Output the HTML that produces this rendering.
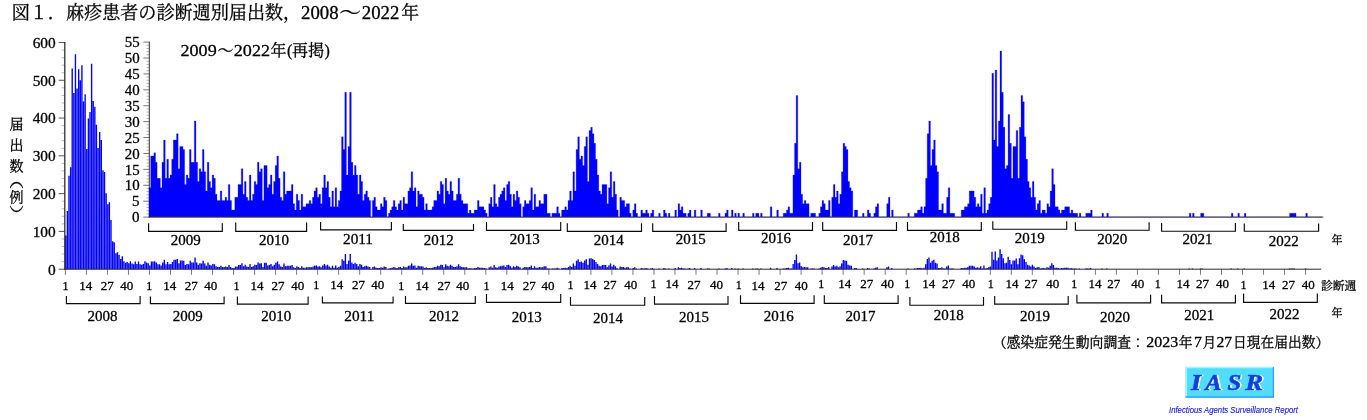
<!DOCTYPE html>
<html lang="ja"><head><meta charset="utf-8"><title>図1 麻疹患者の診断週別届出数</title>
<style>html,body{margin:0;padding:0;background:#fff}svg{display:block}text{font-family:"Liberation Serif","Noto Serif CJK JP","Noto Serif CJK SC",serif;fill:#000;stroke:#000;stroke-width:.28px}.ax{stroke:#333;stroke-width:1;fill:none}.tk{stroke:#555;stroke-width:0.8;fill:none}.br{stroke:#0a0a0a;stroke-width:1.15;fill:none}</style></head><body>
<svg width="1367" height="420" viewBox="0 0 1367 420">
<rect width="1367" height="420" fill="#fff"/>
<path d="M65.07 269.20h1.36v-33.65h-1.36zM66.68 269.20h1.36v-58.21h-1.36zM68.30 269.20h1.36v-93.35h-1.36zM69.92 269.20h1.36v-102.04h-1.36zM71.53 269.20h1.36v-200.65h-1.36zM73.15 269.20h1.36v-176.09h-1.36zM74.77 269.20h1.36v-215.01h-1.36zM76.38 269.20h1.36v-180.63h-1.36zM78.00 269.20h1.36v-199.90h-1.36zM79.62 269.20h1.36v-188.94h-1.36zM81.23 269.20h1.36v-204.05h-1.36zM82.85 269.20h1.36v-167.78h-1.36zM84.47 269.20h1.36v-174.96h-1.36zM86.08 269.20h1.36v-120.17h-1.36zM87.70 269.20h1.36v-150.78h-1.36zM89.32 269.20h1.36v-157.20h-1.36zM90.93 269.20h1.36v-205.56h-1.36zM92.55 269.20h1.36v-168.16h-1.36zM94.17 269.20h1.36v-162.49h-1.36zM95.78 269.20h1.36v-144.35h-1.36zM97.40 269.20h1.36v-121.31h-1.36zM99.01 269.20h1.36v-137.18h-1.36zM100.63 269.20h1.36v-129.24h-1.36zM102.25 269.20h1.36v-99.01h-1.36zM103.86 269.20h1.36v-97.13h-1.36zM105.48 269.20h1.36v-75.97h-1.36zM107.10 269.20h1.36v-65.01h-1.36zM108.71 269.20h1.36v-66.90h-1.36zM110.33 269.20h1.36v-49.14h-1.36zM111.95 269.20h1.36v-27.98h-1.36zM113.56 269.20h1.36v-26.85h-1.36zM115.18 269.20h1.36v-15.89h-1.36zM116.80 269.20h1.36v-17.02h-1.36zM118.41 269.20h1.36v-14.38h-1.36zM120.03 269.20h1.36v-10.22h-1.36zM121.65 269.20h1.36v-12.87h-1.36zM123.26 269.20h1.36v-7.96h-1.36zM124.88 269.20h1.36v-6.45h-1.36zM126.50 269.20h1.36v-7.20h-1.36zM128.11 269.20h1.36v-6.07h-1.36zM129.73 269.20h1.36v-7.96h-1.36zM131.34 269.20h1.36v-5.69h-1.36zM132.96 269.20h1.36v-4.93h-1.36zM134.58 269.20h1.36v-7.58h-1.36zM136.19 269.20h1.36v-5.31h-1.36zM137.81 269.20h1.36v-7.58h-1.36zM139.43 269.20h1.36v-4.93h-1.36zM141.04 269.20h1.36v-4.56h-1.36zM142.66 269.20h1.36v-5.31h-1.36zM144.28 269.20h1.36v-7.96h-1.36zM145.89 269.20h1.36v-6.82h-1.36zM147.51 269.20h1.36v-6.07h-1.36zM149.13 269.20h1.36v-3.80h-1.36zM150.74 269.20h1.36v-7.58h-1.36zM152.36 269.20h1.36v-7.58h-1.36zM153.98 269.20h1.36v-7.96h-1.36zM155.59 269.20h1.36v-6.82h-1.36zM157.21 269.20h1.36v-4.93h-1.36zM158.83 269.20h1.36v-4.93h-1.36zM160.44 269.20h1.36v-3.80h-1.36zM162.06 269.20h1.36v-6.82h-1.36zM163.67 269.20h1.36v-9.47h-1.36zM165.29 269.20h1.36v-4.93h-1.36zM166.91 269.20h1.36v-7.20h-1.36zM168.52 269.20h1.36v-4.93h-1.36zM170.14 269.20h1.36v-5.31h-1.36zM171.76 269.20h1.36v-7.20h-1.36zM173.37 269.20h1.36v-9.47h-1.36zM174.99 269.20h1.36v-9.47h-1.36zM176.61 269.20h1.36v-10.22h-1.36zM178.22 269.20h1.36v-6.07h-1.36zM179.84 269.20h1.36v-8.71h-1.36zM181.46 269.20h1.36v-8.71h-1.36zM183.07 269.20h1.36v-8.33h-1.36zM184.69 269.20h1.36v-4.18h-1.36zM186.31 269.20h1.36v-5.31h-1.36zM187.92 269.20h1.36v-4.93h-1.36zM189.54 269.20h1.36v-8.33h-1.36zM191.16 269.20h1.36v-6.82h-1.36zM192.77 269.20h1.36v-6.82h-1.36zM194.39 269.20h1.36v-11.73h-1.36zM196.00 269.20h1.36v-6.82h-1.36zM197.62 269.20h1.36v-4.56h-1.36zM199.24 269.20h1.36v-6.07h-1.36zM200.85 269.20h1.36v-5.69h-1.36zM202.47 269.20h1.36v-8.33h-1.36zM204.09 269.20h1.36v-5.69h-1.36zM205.70 269.20h1.36v-3.42h-1.36zM207.32 269.20h1.36v-6.82h-1.36zM208.94 269.20h1.36v-4.56h-1.36zM210.55 269.20h1.36v-3.80h-1.36zM212.17 269.20h1.36v-5.31h-1.36zM213.79 269.20h1.36v-4.93h-1.36zM215.40 269.20h1.36v-3.04h-1.36zM217.02 269.20h1.36v-2.29h-1.36zM218.64 269.20h1.36v-2.29h-1.36zM220.25 269.20h1.36v-3.42h-1.36zM221.87 269.20h1.36v-2.29h-1.36zM223.49 269.20h1.36v-2.29h-1.36zM225.10 269.20h1.36v-2.67h-1.36zM226.72 269.20h1.36v-2.29h-1.36zM228.33 269.20h1.36v-4.18h-1.36zM229.95 269.20h1.36v-2.29h-1.36zM231.57 269.20h1.36v-1.16h-1.36zM233.18 269.20h1.36v-1.16h-1.36zM234.80 269.20h1.36v-2.67h-1.36zM236.42 269.20h1.36v-2.67h-1.36zM238.03 269.20h1.36v-4.18h-1.36zM239.65 269.20h1.36v-4.18h-1.36zM241.27 269.20h1.36v-6.07h-1.36zM242.88 269.20h1.36v-3.04h-1.36zM244.50 269.20h1.36v-4.56h-1.36zM246.12 269.20h1.36v-2.67h-1.36zM247.73 269.20h1.36v-2.29h-1.36zM249.35 269.20h1.36v-5.31h-1.36zM250.97 269.20h1.36v-2.29h-1.36zM252.58 269.20h1.36v-3.04h-1.36zM254.20 269.20h1.36v-4.56h-1.36zM255.82 269.20h1.36v-4.18h-1.36zM257.43 269.20h1.36v-6.82h-1.36zM259.05 269.20h1.36v-5.69h-1.36zM260.66 269.20h1.36v-6.07h-1.36zM262.28 269.20h1.36v-2.29h-1.36zM263.90 269.20h1.36v-6.45h-1.36zM265.51 269.20h1.36v-6.45h-1.36zM267.13 269.20h1.36v-3.80h-1.36zM268.75 269.20h1.36v-4.18h-1.36zM270.36 269.20h1.36v-5.31h-1.36zM271.98 269.20h1.36v-3.04h-1.36zM273.60 269.20h1.36v-4.56h-1.36zM275.21 269.20h1.36v-6.45h-1.36zM276.83 269.20h1.36v-7.58h-1.36zM278.45 269.20h1.36v-4.93h-1.36zM280.06 269.20h1.36v-2.67h-1.36zM281.68 269.20h1.36v-2.29h-1.36zM283.30 269.20h1.36v-5.69h-1.36zM284.91 269.20h1.36v-3.04h-1.36zM286.53 269.20h1.36v-3.42h-1.36zM288.15 269.20h1.36v-3.42h-1.36zM289.76 269.20h1.36v-3.42h-1.36zM291.38 269.20h1.36v-4.18h-1.36zM292.99 269.20h1.36v-1.91h-1.36zM294.61 269.20h1.36v-1.16h-1.36zM296.23 269.20h1.36v-3.04h-1.36zM297.84 269.20h1.36v-2.29h-1.36zM299.46 269.20h1.36v-1.16h-1.36zM301.08 269.20h1.36v-3.04h-1.36zM302.69 269.20h1.36v-1.53h-1.36zM304.31 269.20h1.36v-1.53h-1.36zM305.93 269.20h1.36v-1.91h-1.36zM307.54 269.20h1.36v-1.91h-1.36zM309.16 269.20h1.36v-2.29h-1.36zM310.78 269.20h1.36v-1.91h-1.36zM312.39 269.20h1.36v-2.67h-1.36zM314.01 269.20h1.36v-3.42h-1.36zM315.63 269.20h1.36v-3.80h-1.36zM317.24 269.20h1.36v-2.67h-1.36zM318.86 269.20h1.36v-3.04h-1.36zM320.48 269.20h1.36v-1.91h-1.36zM322.09 269.20h1.36v-3.80h-1.36zM323.71 269.20h1.36v-5.31h-1.36zM325.32 269.20h1.36v-3.80h-1.36zM326.94 269.20h1.36v-4.56h-1.36zM328.56 269.20h1.36v-2.67h-1.36zM330.17 269.20h1.36v-1.53h-1.36zM331.79 269.20h1.36v-3.42h-1.36zM333.41 269.20h1.36v-1.53h-1.36zM335.02 269.20h1.36v-3.80h-1.36zM336.64 269.20h1.36v-1.53h-1.36zM338.26 269.20h1.36v-2.29h-1.36zM339.87 269.20h1.36v-3.42h-1.36zM341.49 269.20h1.36v-9.85h-1.36zM343.11 269.20h1.36v-8.33h-1.36zM344.72 269.20h1.36v-15.14h-1.36zM346.34 269.20h1.36v-5.31h-1.36zM347.96 269.20h1.36v-8.71h-1.36zM349.57 269.20h1.36v-15.14h-1.36zM351.19 269.20h1.36v-6.82h-1.36zM352.81 269.20h1.36v-5.31h-1.36zM354.42 269.20h1.36v-6.45h-1.36zM356.04 269.20h1.36v-5.31h-1.36zM357.65 269.20h1.36v-3.04h-1.36zM359.27 269.20h1.36v-5.31h-1.36zM360.89 269.20h1.36v-4.56h-1.36zM362.50 269.20h1.36v-2.29h-1.36zM364.12 269.20h1.36v-3.04h-1.36zM365.74 269.20h1.36v-3.42h-1.36zM367.35 269.20h1.36v-2.67h-1.36zM368.97 269.20h1.36v-2.29h-1.36zM372.20 269.20h1.36v-2.29h-1.36zM373.82 269.20h1.36v-2.67h-1.36zM375.44 269.20h1.36v-1.53h-1.36zM377.05 269.20h1.36v-1.16h-1.36zM378.67 269.20h1.36v-1.16h-1.36zM380.29 269.20h1.36v-1.91h-1.36zM381.90 269.20h1.36v-1.53h-1.36zM383.52 269.20h1.36v-2.67h-1.36zM385.14 269.20h1.36v-2.29h-1.36zM388.37 269.20h1.36v-0.78h-1.36zM389.98 269.20h1.36v-1.16h-1.36zM391.60 269.20h1.36v-1.53h-1.36zM393.22 269.20h1.36v-2.29h-1.36zM394.83 269.20h1.36v-1.53h-1.36zM396.45 269.20h1.36v-1.16h-1.36zM398.07 269.20h1.36v-1.91h-1.36zM399.68 269.20h1.36v-2.29h-1.36zM401.30 269.20h1.36v-1.16h-1.36zM402.92 269.20h1.36v-2.67h-1.36zM404.53 269.20h1.36v-1.91h-1.36zM406.15 269.20h1.36v-1.91h-1.36zM407.77 269.20h1.36v-3.42h-1.36zM409.38 269.20h1.36v-3.80h-1.36zM411.00 269.20h1.36v-5.69h-1.36zM412.62 269.20h1.36v-3.42h-1.36zM414.23 269.20h1.36v-3.80h-1.36zM415.85 269.20h1.36v-1.53h-1.36zM417.47 269.20h1.36v-3.42h-1.36zM419.08 269.20h1.36v-3.04h-1.36zM420.70 269.20h1.36v-3.04h-1.36zM422.31 269.20h1.36v-2.67h-1.36zM423.93 269.20h1.36v-1.16h-1.36zM425.55 269.20h1.36v-1.91h-1.36zM427.16 269.20h1.36v-1.16h-1.36zM428.78 269.20h1.36v-1.16h-1.36zM430.40 269.20h1.36v-1.16h-1.36zM432.01 269.20h1.36v-1.53h-1.36zM433.63 269.20h1.36v-2.29h-1.36zM435.25 269.20h1.36v-2.29h-1.36zM436.86 269.20h1.36v-3.42h-1.36zM438.48 269.20h1.36v-3.04h-1.36zM440.10 269.20h1.36v-4.56h-1.36zM441.71 269.20h1.36v-4.18h-1.36zM443.33 269.20h1.36v-1.91h-1.36zM444.95 269.20h1.36v-4.93h-1.36zM446.56 269.20h1.36v-3.42h-1.36zM448.18 269.20h1.36v-3.04h-1.36zM449.80 269.20h1.36v-4.56h-1.36zM451.41 269.20h1.36v-3.42h-1.36zM453.03 269.20h1.36v-2.29h-1.36zM454.64 269.20h1.36v-2.29h-1.36zM456.26 269.20h1.36v-3.04h-1.36zM457.88 269.20h1.36v-4.93h-1.36zM459.49 269.20h1.36v-3.04h-1.36zM461.11 269.20h1.36v-2.29h-1.36zM462.73 269.20h1.36v-1.91h-1.36zM464.34 269.20h1.36v-1.91h-1.36zM465.96 269.20h1.36v-1.91h-1.36zM467.58 269.20h1.36v-0.78h-1.36zM469.19 269.20h1.36v-1.16h-1.36zM470.81 269.20h1.36v-0.78h-1.36zM472.43 269.20h1.36v-0.78h-1.36zM474.04 269.20h1.36v-1.16h-1.36zM475.66 269.20h1.36v-1.16h-1.36zM477.28 269.20h1.36v-2.29h-1.36zM478.89 269.20h1.36v-1.53h-1.36zM480.51 269.20h1.36v-1.53h-1.36zM482.13 269.20h1.36v-1.53h-1.36zM483.74 269.20h1.36v-1.16h-1.36zM485.36 269.20h1.36v-0.78h-1.36zM488.59 269.20h1.36v-1.91h-1.36zM490.21 269.20h1.36v-2.67h-1.36zM491.82 269.20h1.36v-1.53h-1.36zM493.44 269.20h1.36v-4.18h-1.36zM495.06 269.20h1.36v-1.91h-1.36zM496.67 269.20h1.36v-1.53h-1.36zM498.29 269.20h1.36v-2.67h-1.36zM499.91 269.20h1.36v-3.04h-1.36zM501.52 269.20h1.36v-3.42h-1.36zM503.14 269.20h1.36v-3.80h-1.36zM504.76 269.20h1.36v-2.29h-1.36zM506.37 269.20h1.36v-4.18h-1.36zM507.99 269.20h1.36v-4.56h-1.36zM509.61 269.20h1.36v-3.04h-1.36zM511.22 269.20h1.36v-1.53h-1.36zM512.84 269.20h1.36v-3.04h-1.36zM514.46 269.20h1.36v-2.29h-1.36zM516.07 269.20h1.36v-3.42h-1.36zM517.69 269.20h1.36v-2.67h-1.36zM519.30 269.20h1.36v-1.91h-1.36zM522.54 269.20h1.36v-1.53h-1.36zM524.15 269.20h1.36v-2.29h-1.36zM525.77 269.20h1.36v-1.91h-1.36zM527.39 269.20h1.36v-1.91h-1.36zM529.00 269.20h1.36v-2.29h-1.36zM530.62 269.20h1.36v-3.80h-1.36zM532.24 269.20h1.36v-1.16h-1.36zM533.85 269.20h1.36v-3.04h-1.36zM535.47 269.20h1.36v-1.53h-1.36zM537.09 269.20h1.36v-1.53h-1.36zM538.70 269.20h1.36v-2.29h-1.36zM540.32 269.20h1.36v-1.91h-1.36zM541.94 269.20h1.36v-1.91h-1.36zM543.55 269.20h1.36v-3.04h-1.36zM545.17 269.20h1.36v-3.04h-1.36zM546.79 269.20h1.36v-0.78h-1.36zM548.40 269.20h1.36v-0.78h-1.36zM551.63 269.20h1.36v-0.78h-1.36zM553.25 269.20h1.36v-0.78h-1.36zM554.87 269.20h1.36v-0.78h-1.36zM556.48 269.20h1.36v-1.53h-1.36zM558.10 269.20h1.36v-0.78h-1.36zM561.33 269.20h1.36v-1.16h-1.36zM562.95 269.20h1.36v-1.16h-1.36zM564.57 269.20h1.36v-1.53h-1.36zM566.18 269.20h1.36v-1.16h-1.36zM567.80 269.20h1.36v-2.29h-1.36zM569.42 269.20h1.36v-3.42h-1.36zM571.03 269.20h1.36v-2.29h-1.36zM572.65 269.20h1.36v-5.69h-1.36zM574.27 269.20h1.36v-3.42h-1.36zM575.88 269.20h1.36v-8.33h-1.36zM577.50 269.20h1.36v-9.85h-1.36zM579.12 269.20h1.36v-7.20h-1.36zM580.73 269.20h1.36v-7.58h-1.36zM582.35 269.20h1.36v-6.45h-1.36zM583.96 269.20h1.36v-8.71h-1.36zM585.58 269.20h1.36v-9.85h-1.36zM587.20 269.20h1.36v-4.56h-1.36zM588.81 269.20h1.36v-10.60h-1.36zM590.43 269.20h1.36v-10.98h-1.36zM592.05 269.20h1.36v-10.22h-1.36zM593.66 269.20h1.36v-9.09h-1.36zM595.28 269.20h1.36v-7.20h-1.36zM596.90 269.20h1.36v-5.31h-1.36zM598.51 269.20h1.36v-3.42h-1.36zM600.13 269.20h1.36v-3.04h-1.36zM601.75 269.20h1.36v-4.18h-1.36zM603.36 269.20h1.36v-4.18h-1.36zM604.98 269.20h1.36v-4.18h-1.36zM606.60 269.20h1.36v-1.91h-1.36zM608.21 269.20h1.36v-3.80h-1.36zM609.83 269.20h1.36v-5.69h-1.36zM611.45 269.20h1.36v-2.67h-1.36zM613.06 269.20h1.36v-4.56h-1.36zM614.68 269.20h1.36v-3.04h-1.36zM616.29 269.20h1.36v-1.16h-1.36zM619.53 269.20h1.36v-2.67h-1.36zM621.14 269.20h1.36v-2.29h-1.36zM622.76 269.20h1.36v-2.29h-1.36zM624.38 269.20h1.36v-1.53h-1.36zM625.99 269.20h1.36v-1.91h-1.36zM627.61 269.20h1.36v-1.91h-1.36zM629.23 269.20h1.36v-0.78h-1.36zM632.46 269.20h1.36v-1.16h-1.36zM634.08 269.20h1.36v-1.91h-1.36zM635.69 269.20h1.36v-0.78h-1.36zM640.54 269.20h1.36v-1.16h-1.36zM642.16 269.20h1.36v-0.78h-1.36zM643.78 269.20h1.36v-0.78h-1.36zM645.39 269.20h1.36v-1.16h-1.36zM647.01 269.20h1.36v-0.78h-1.36zM650.24 269.20h1.36v-0.78h-1.36zM651.86 269.20h1.36v-1.16h-1.36zM658.32 269.20h1.36v-0.78h-1.36zM663.17 269.20h1.36v-1.16h-1.36zM664.79 269.20h1.36v-0.78h-1.36zM668.02 269.20h1.36v-0.78h-1.36zM674.49 269.20h1.36v-1.16h-1.36zM677.72 269.20h1.36v-1.91h-1.36zM679.34 269.20h1.36v-1.16h-1.36zM680.95 269.20h1.36v-1.53h-1.36zM682.57 269.20h1.36v-0.78h-1.36zM684.19 269.20h1.36v-0.78h-1.36zM687.42 269.20h1.36v-0.78h-1.36zM689.04 269.20h1.36v-1.16h-1.36zM693.89 269.20h1.36v-1.16h-1.36zM700.35 269.20h1.36v-1.16h-1.36zM706.82 269.20h1.36v-0.78h-1.36zM708.44 269.20h1.36v-0.78h-1.36zM718.13 269.20h1.36v-0.78h-1.36zM724.60 269.20h1.36v-0.78h-1.36zM726.22 269.20h1.36v-1.16h-1.36zM731.07 269.20h1.36v-1.16h-1.36zM734.30 269.20h1.36v-0.78h-1.36zM737.53 269.20h1.36v-0.78h-1.36zM742.38 269.20h1.36v-0.78h-1.36zM752.08 269.20h1.36v-0.78h-1.36zM755.31 269.20h1.36v-0.78h-1.36zM756.93 269.20h1.36v-0.78h-1.36zM760.16 269.20h1.36v-0.78h-1.36zM769.86 269.20h1.36v-1.53h-1.36zM776.33 269.20h1.36v-1.16h-1.36zM782.79 269.20h1.36v-0.78h-1.36zM784.41 269.20h1.36v-0.78h-1.36zM786.03 269.20h1.36v-1.16h-1.36zM787.64 269.20h1.36v-1.53h-1.36zM789.26 269.20h1.36v-0.78h-1.36zM790.88 269.20h1.36v-0.78h-1.36zM792.49 269.20h1.36v-5.31h-1.36zM794.11 269.20h1.36v-9.09h-1.36zM795.73 269.20h1.36v-14.76h-1.36zM797.34 269.20h1.36v-6.07h-1.36zM798.96 269.20h1.36v-6.82h-1.36zM800.58 269.20h1.36v-3.04h-1.36zM802.19 269.20h1.36v-1.91h-1.36zM803.81 269.20h1.36v-2.29h-1.36zM805.43 269.20h1.36v-1.91h-1.36zM807.04 269.20h1.36v-1.91h-1.36zM810.27 269.20h1.36v-0.78h-1.36zM811.89 269.20h1.36v-0.78h-1.36zM813.51 269.20h1.36v-0.78h-1.36zM818.36 269.20h1.36v-0.78h-1.36zM819.97 269.20h1.36v-1.53h-1.36zM821.59 269.20h1.36v-2.29h-1.36zM823.21 269.20h1.36v-1.91h-1.36zM824.82 269.20h1.36v-1.16h-1.36zM826.44 269.20h1.36v-1.16h-1.36zM828.06 269.20h1.36v-2.29h-1.36zM831.29 269.20h1.36v-2.67h-1.36zM832.91 269.20h1.36v-4.18h-1.36zM834.52 269.20h1.36v-2.67h-1.36zM836.14 269.20h1.36v-3.42h-1.36zM837.76 269.20h1.36v-1.91h-1.36zM839.37 269.20h1.36v-3.04h-1.36zM840.99 269.20h1.36v-5.69h-1.36zM842.60 269.20h1.36v-9.09h-1.36zM844.22 269.20h1.36v-8.71h-1.36zM845.84 269.20h1.36v-8.33h-1.36zM847.45 269.20h1.36v-4.56h-1.36zM849.07 269.20h1.36v-3.80h-1.36zM850.69 269.20h1.36v-3.42h-1.36zM853.92 269.20h1.36v-1.16h-1.36zM855.54 269.20h1.36v-1.16h-1.36zM862.00 269.20h1.36v-0.78h-1.36zM866.85 269.20h1.36v-1.16h-1.36zM868.47 269.20h1.36v-0.78h-1.36zM873.32 269.20h1.36v-0.78h-1.36zM874.93 269.20h1.36v-1.53h-1.36zM876.55 269.20h1.36v-1.91h-1.36zM886.25 269.20h1.36v-1.91h-1.36zM887.87 269.20h1.36v-2.67h-1.36zM891.10 269.20h1.36v-1.16h-1.36zM907.26 269.20h1.36v-0.78h-1.36zM913.73 269.20h1.36v-0.78h-1.36zM915.35 269.20h1.36v-0.78h-1.36zM916.96 269.20h1.36v-1.16h-1.36zM918.58 269.20h1.36v-1.16h-1.36zM920.20 269.20h1.36v-1.53h-1.36zM921.81 269.20h1.36v-0.78h-1.36zM923.43 269.20h1.36v-1.53h-1.36zM925.05 269.20h1.36v-4.93h-1.36zM926.66 269.20h1.36v-10.22h-1.36zM928.28 269.20h1.36v-11.73h-1.36zM929.90 269.20h1.36v-6.45h-1.36zM931.51 269.20h1.36v-8.33h-1.36zM933.13 269.20h1.36v-9.47h-1.36zM934.75 269.20h1.36v-6.45h-1.36zM936.36 269.20h1.36v-5.69h-1.36zM937.98 269.20h1.36v-1.16h-1.36zM939.59 269.20h1.36v-1.16h-1.36zM941.21 269.20h1.36v-1.91h-1.36zM942.83 269.20h1.36v-0.78h-1.36zM944.44 269.20h1.36v-0.78h-1.36zM946.06 269.20h1.36v-2.67h-1.36zM947.68 269.20h1.36v-3.80h-1.36zM949.29 269.20h1.36v-0.78h-1.36zM950.91 269.20h1.36v-0.78h-1.36zM952.53 269.20h1.36v-0.78h-1.36zM960.61 269.20h1.36v-1.16h-1.36zM962.23 269.20h1.36v-1.16h-1.36zM963.84 269.20h1.36v-1.53h-1.36zM965.46 269.20h1.36v-1.53h-1.36zM967.08 269.20h1.36v-1.91h-1.36zM968.69 269.20h1.36v-3.42h-1.36zM970.31 269.20h1.36v-3.42h-1.36zM971.92 269.20h1.36v-3.42h-1.36zM973.54 269.20h1.36v-2.67h-1.36zM975.16 269.20h1.36v-1.53h-1.36zM976.77 269.20h1.36v-1.91h-1.36zM978.39 269.20h1.36v-1.53h-1.36zM980.01 269.20h1.36v-3.04h-1.36zM981.62 269.20h1.36v-0.78h-1.36zM983.24 269.20h1.36v-3.80h-1.36zM984.86 269.20h1.36v-0.78h-1.36zM986.47 269.20h1.36v-1.16h-1.36zM988.09 269.20h1.36v-1.91h-1.36zM989.71 269.20h1.36v-2.67h-1.36zM991.32 269.20h1.36v-17.40h-1.36zM992.94 269.20h1.36v-9.47h-1.36zM994.56 269.20h1.36v-17.78h-1.36zM996.17 269.20h1.36v-8.71h-1.36zM997.79 269.20h1.36v-11.73h-1.36zM999.41 269.20h1.36v-20.05h-1.36zM1001.02 269.20h1.36v-15.14h-1.36zM1002.64 269.20h1.36v-10.98h-1.36zM1004.25 269.20h1.36v-6.07h-1.36zM1005.87 269.20h1.36v-6.45h-1.36zM1007.49 269.20h1.36v-12.49h-1.36zM1009.10 269.20h1.36v-9.09h-1.36zM1010.72 269.20h1.36v-4.93h-1.36zM1012.34 269.20h1.36v-8.71h-1.36zM1013.95 269.20h1.36v-8.71h-1.36zM1015.57 269.20h1.36v-10.60h-1.36zM1017.19 269.20h1.36v-4.93h-1.36zM1018.80 269.20h1.36v-10.98h-1.36zM1020.42 269.20h1.36v-14.76h-1.36zM1022.04 269.20h1.36v-14.00h-1.36zM1023.65 269.20h1.36v-9.85h-1.36zM1025.27 269.20h1.36v-7.20h-1.36zM1026.89 269.20h1.36v-4.56h-1.36zM1028.50 269.20h1.36v-3.80h-1.36zM1030.12 269.20h1.36v-2.67h-1.36zM1031.74 269.20h1.36v-4.56h-1.36zM1033.35 269.20h1.36v-2.67h-1.36zM1034.97 269.20h1.36v-1.16h-1.36zM1036.58 269.20h1.36v-1.91h-1.36zM1038.20 269.20h1.36v-2.29h-1.36zM1039.82 269.20h1.36v-0.78h-1.36zM1041.43 269.20h1.36v-1.16h-1.36zM1043.05 269.20h1.36v-1.16h-1.36zM1044.67 269.20h1.36v-0.78h-1.36zM1046.28 269.20h1.36v-1.91h-1.36zM1047.90 269.20h1.36v-1.53h-1.36zM1049.52 269.20h1.36v-3.42h-1.36zM1051.13 269.20h1.36v-6.07h-1.36zM1052.75 269.20h1.36v-4.18h-1.36zM1054.37 269.20h1.36v-1.53h-1.36zM1055.98 269.20h1.36v-1.53h-1.36zM1057.60 269.20h1.36v-1.16h-1.36zM1059.22 269.20h1.36v-0.78h-1.36zM1060.83 269.20h1.36v-1.16h-1.36zM1062.45 269.20h1.36v-1.16h-1.36zM1064.07 269.20h1.36v-1.53h-1.36zM1065.68 269.20h1.36v-1.53h-1.36zM1067.30 269.20h1.36v-1.53h-1.36zM1068.91 269.20h1.36v-0.78h-1.36zM1070.53 269.20h1.36v-1.16h-1.36zM1072.15 269.20h1.36v-0.78h-1.36zM1073.76 269.20h1.36v-0.78h-1.36zM1075.38 269.20h1.36v-0.78h-1.36zM1078.61 269.20h1.36v-0.78h-1.36zM1085.08 269.20h1.36v-0.78h-1.36zM1086.70 269.20h1.36v-0.78h-1.36zM1088.31 269.20h1.36v-0.78h-1.36zM1089.93 269.20h1.36v-1.16h-1.36zM1101.24 269.20h1.36v-0.78h-1.36zM1106.09 269.20h1.36v-0.78h-1.36zM1188.54 269.20h1.36v-0.78h-1.36zM1191.77 269.20h1.36v-0.78h-1.36zM1199.85 269.20h1.36v-0.78h-1.36zM1201.47 269.20h1.36v-0.78h-1.36zM1230.56 269.20h1.36v-0.78h-1.36zM1237.03 269.20h1.36v-0.78h-1.36zM1243.50 269.20h1.36v-0.78h-1.36zM1288.76 269.20h1.36v-0.78h-1.36zM1290.38 269.20h1.36v-0.78h-1.36zM1291.99 269.20h1.36v-0.78h-1.36zM1293.61 269.20h1.36v-0.78h-1.36zM1304.92 269.20h1.36v-0.78h-1.36z" fill="#0000ff"/>
<path d="M58.7 269.20H64.8M58.7 231.42H64.8M58.7 193.63H64.8M58.7 155.85H64.8M58.7 118.07H64.8M58.7 80.28H64.8M58.7 42.50H64.8" stroke="#555" stroke-width="1" fill="none"/>
<path d="M61.6 261.64H64.8M61.6 254.09H64.8M61.6 246.53H64.8M61.6 238.97H64.8M61.6 223.86H64.8M61.6 216.30H64.8M61.6 208.75H64.8M61.6 201.19H64.8M61.6 186.08H64.8M61.6 178.52H64.8M61.6 170.96H64.8M61.6 163.41H64.8M61.6 148.29H64.8M61.6 140.74H64.8M61.6 133.18H64.8M61.6 125.62H64.8M61.6 110.51H64.8M61.6 102.95H64.8M61.6 95.40H64.8M61.6 87.84H64.8M61.6 72.73H64.8M61.6 65.17H64.8M61.6 57.61H64.8M61.6 50.06H64.8" stroke="#999" stroke-width="0.7" fill="none"/>
<path d="M65.40 269.20V274.8M86.42 269.20V274.8M107.44 269.20V274.8M128.46 269.20V274.8M149.48 269.20V274.8M170.50 269.20V274.8M191.52 269.20V274.8M212.54 269.20V274.8M233.56 269.20V274.8M254.58 269.20V274.8M275.60 269.20V274.8M296.62 269.20V274.8M317.64 269.20V274.8M338.66 269.20V274.8M359.68 269.20V274.8M380.70 269.20V274.8M401.72 269.20V274.8M422.74 269.20V274.8M443.76 269.20V274.8M464.78 269.20V274.8M485.80 269.20V274.8M506.82 269.20V274.8M527.84 269.20V274.8M548.86 269.20V274.8M569.88 269.20V274.8M590.90 269.20V274.8M611.92 269.20V274.8M632.94 269.20V274.8M653.96 269.20V274.8M674.98 269.20V274.8M696.00 269.20V274.8M717.02 269.20V274.8M738.04 269.20V274.8M759.06 269.20V274.8M780.08 269.20V274.8M801.10 269.20V274.8M822.12 269.20V274.8M843.14 269.20V274.8M864.16 269.20V274.8M885.18 269.20V274.8M906.20 269.20V274.8M927.22 269.20V274.8M948.24 269.20V274.8M969.26 269.20V274.8M990.28 269.20V274.8M1011.30 269.20V274.8M1032.32 269.20V274.8M1053.34 269.20V274.8M1074.36 269.20V274.8M1095.38 269.20V274.8M1116.40 269.20V274.8M1137.42 269.20V274.8M1158.44 269.20V274.8M1179.46 269.20V274.8M1200.48 269.20V274.8M1221.50 269.20V274.8M1242.52 269.20V274.8M1263.54 269.20V274.8M1284.56 269.20V274.8M1305.58 269.20V274.8" stroke="#444" stroke-width="0.7" fill="none"/>
<path d="M64.8 42V269.80" stroke="#2e2e2e" stroke-width="1.3" fill="none"/>
<path d="M64.1 269.20H1321.2" stroke="#2a2a2a" stroke-width="1.0" fill="none"/>
<path d="M143.3 217.10H149.3M143.3 201.19H149.3M143.3 185.28H149.3M143.3 169.37H149.3M143.3 153.46H149.3M143.3 137.55H149.3M143.3 121.65H149.3M143.3 105.74H149.3M143.3 89.83H149.3M143.3 73.92H149.3M143.3 58.01H149.3M143.3 42.10H149.3" stroke="#777" stroke-width="1" fill="none"/>
<path d="M146.4 213.92H149.3M146.4 210.74H149.3M146.4 207.55H149.3M146.4 204.37H149.3M146.4 198.01H149.3M146.4 194.83H149.3M146.4 191.65H149.3M146.4 188.46H149.3M146.4 182.10H149.3M146.4 178.92H149.3M146.4 175.74H149.3M146.4 172.55H149.3M146.4 166.19H149.3M146.4 163.01H149.3M146.4 159.83H149.3M146.4 156.65H149.3M146.4 150.28H149.3M146.4 147.10H149.3M146.4 143.92H149.3M146.4 140.74H149.3M146.4 134.37H149.3M146.4 131.19H149.3M146.4 128.01H149.3M146.4 124.83H149.3M146.4 118.46H149.3M146.4 115.28H149.3M146.4 112.10H149.3M146.4 108.92H149.3M146.4 102.55H149.3M146.4 99.37H149.3M146.4 96.19H149.3M146.4 93.01H149.3M146.4 86.65H149.3M146.4 83.46H149.3M146.4 80.28H149.3M146.4 77.10H149.3M146.4 70.74H149.3M146.4 67.55H149.3M146.4 64.37H149.3M146.4 61.19H149.3M146.4 54.83H149.3M146.4 51.65H149.3M146.4 48.46H149.3M146.4 45.28H149.3" stroke="#888" stroke-width="0.6" fill="none"/>
<path class="ax" d="M149.3 41.6V217.6"/>
<path d="M149.04 217.10L149.04 187.76L150.66 187.76L150.66 155.95L152.28 155.95L152.28 155.95L153.90 155.95L153.90 152.76L155.51 152.76L155.51 162.31L157.13 162.31L157.13 178.22L158.75 178.22L158.75 178.22L160.37 178.22L160.37 187.76L161.98 187.76L161.98 162.31L163.60 162.31L163.60 140.04L165.22 140.04L165.22 178.22L166.84 178.22L166.84 159.13L168.46 159.13L168.46 178.22L170.07 178.22L170.07 175.04L171.69 175.04L171.69 159.13L173.31 159.13L173.31 140.04L174.93 140.04L174.93 140.04L176.54 140.04L176.54 133.67L178.16 133.67L178.16 168.67L179.78 168.67L179.78 146.40L181.40 146.40L181.40 146.40L183.02 146.40L183.02 149.58L184.63 149.58L184.63 184.58L186.25 184.58L186.25 175.04L187.87 175.04L187.87 178.22L189.49 178.22L189.49 149.58L191.10 149.58L191.10 162.31L192.72 162.31L192.72 162.31L194.34 162.31L194.34 120.95L195.96 120.95L195.96 162.31L197.58 162.31L197.58 181.40L199.19 181.40L199.19 168.67L200.81 168.67L200.81 171.85L202.43 171.85L202.43 149.58L204.05 149.58L204.05 171.85L205.67 171.85L205.67 190.95L207.28 190.95L207.28 162.31L208.90 162.31L208.90 181.40L210.52 181.40L210.52 187.76L212.14 187.76L212.14 175.04L213.75 175.04L213.75 178.22L215.37 178.22L215.37 194.13L216.99 194.13L216.99 200.49L218.61 200.49L218.61 200.49L220.23 200.49L220.23 190.95L221.84 190.95L221.84 200.49L223.46 200.49L223.46 200.49L225.08 200.49L225.08 197.31L226.70 197.31L226.70 200.49L228.31 200.49L228.31 184.58L229.93 184.58L229.93 200.49L231.55 200.49L231.55 210.04L233.17 210.04L233.17 210.04L234.79 210.04L234.79 197.31L236.40 197.31L236.40 197.31L238.02 197.31L238.02 184.58L239.64 184.58L239.64 184.58L241.26 184.58L241.26 168.67L242.87 168.67L242.87 194.13L244.49 194.13L244.49 181.40L246.11 181.40L246.11 197.31L247.73 197.31L247.73 200.49L249.35 200.49L249.35 175.04L250.96 175.04L250.96 200.49L252.58 200.49L252.58 194.13L254.20 194.13L254.20 181.40L255.82 181.40L255.82 184.58L257.43 184.58L257.43 162.31L259.05 162.31L259.05 171.85L260.67 171.85L260.67 168.67L262.29 168.67L262.29 200.49L263.91 200.49L263.91 165.49L265.52 165.49L265.52 165.49L267.14 165.49L267.14 187.76L268.76 187.76L268.76 184.58L270.38 184.58L270.38 175.04L272.00 175.04L272.00 194.13L273.61 194.13L273.61 181.40L275.23 181.40L275.23 165.49L276.85 165.49L276.85 155.95L278.47 155.95L278.47 178.22L280.08 178.22L280.08 197.31L281.70 197.31L281.70 200.49L283.32 200.49L283.32 171.85L284.94 171.85L284.94 194.13L286.56 194.13L286.56 190.95L288.17 190.95L288.17 190.95L289.79 190.95L289.79 190.95L291.41 190.95L291.41 184.58L293.03 184.58L293.03 203.67L294.64 203.67L294.64 210.04L296.26 210.04L296.26 194.13L297.88 194.13L297.88 200.49L299.50 200.49L299.50 210.04L301.12 210.04L301.12 194.13L302.73 194.13L302.73 206.85L304.35 206.85L304.35 206.85L305.97 206.85L305.97 203.67L307.59 203.67L307.59 203.67L309.20 203.67L309.20 200.49L310.82 200.49L310.82 203.67L312.44 203.67L312.44 197.31L314.06 197.31L314.06 190.95L315.68 190.95L315.68 187.76L317.29 187.76L317.29 197.31L318.91 197.31L318.91 194.13L320.53 194.13L320.53 203.67L322.15 203.67L322.15 187.76L323.76 187.76L323.76 175.04L325.38 175.04L325.38 187.76L327.00 187.76L327.00 181.40L328.62 181.40L328.62 197.31L330.24 197.31L330.24 206.85L331.85 206.85L331.85 190.95L333.47 190.95L333.47 206.85L335.09 206.85L335.09 187.76L336.71 187.76L336.71 206.85L338.32 206.85L338.32 200.49L339.94 200.49L339.94 190.95L341.56 190.95L341.56 136.85L343.18 136.85L343.18 149.58L344.80 149.58L344.80 92.31L346.41 92.31L346.41 175.04L348.03 175.04L348.03 146.40L349.65 146.40L349.65 92.31L351.27 92.31L351.27 162.31L352.88 162.31L352.88 175.04L354.50 175.04L354.50 165.49L356.12 165.49L356.12 175.04L357.74 175.04L357.74 194.13L359.36 194.13L359.36 175.04L360.97 175.04L360.97 181.40L362.59 181.40L362.59 200.49L364.21 200.49L364.21 194.13L365.83 194.13L365.83 190.95L367.45 190.95L367.45 197.31L369.06 197.31L369.06 200.49L370.68 200.49L370.68 217.10L372.30 217.10L372.30 200.49L373.92 200.49L373.92 197.31L375.53 197.31L375.53 206.85L377.15 206.85L377.15 210.04L378.77 210.04L378.77 210.04L380.39 210.04L380.39 203.67L382.01 203.67L382.01 206.85L383.62 206.85L383.62 197.31L385.24 197.31L385.24 200.49L386.86 200.49L386.86 217.10L388.48 217.10L388.48 213.22L390.09 213.22L390.09 210.04L391.71 210.04L391.71 206.85L393.33 206.85L393.33 200.49L394.95 200.49L394.95 206.85L396.57 206.85L396.57 210.04L398.18 210.04L398.18 203.67L399.80 203.67L399.80 200.49L401.42 200.49L401.42 210.04L403.04 210.04L403.04 197.31L404.65 197.31L404.65 203.67L406.27 203.67L406.27 203.67L407.89 203.67L407.89 190.95L409.51 190.95L409.51 187.76L411.13 187.76L411.13 171.85L412.74 171.85L412.74 190.95L414.36 190.95L414.36 187.76L415.98 187.76L415.98 206.85L417.60 206.85L417.60 190.95L419.21 190.95L419.21 194.13L420.83 194.13L420.83 194.13L422.45 194.13L422.45 197.31L424.07 197.31L424.07 210.04L425.69 210.04L425.69 203.67L427.30 203.67L427.30 210.04L428.92 210.04L428.92 210.04L430.54 210.04L430.54 210.04L432.16 210.04L432.16 206.85L433.77 206.85L433.77 200.49L435.39 200.49L435.39 200.49L437.01 200.49L437.01 190.95L438.63 190.95L438.63 194.13L440.25 194.13L440.25 181.40L441.86 181.40L441.86 184.58L443.48 184.58L443.48 203.67L445.10 203.67L445.10 178.22L446.72 178.22L446.72 190.95L448.34 190.95L448.34 194.13L449.95 194.13L449.95 181.40L451.57 181.40L451.57 190.95L453.19 190.95L453.19 200.49L454.81 200.49L454.81 200.49L456.42 200.49L456.42 194.13L458.04 194.13L458.04 178.22L459.66 178.22L459.66 194.13L461.28 194.13L461.28 200.49L462.90 200.49L462.90 203.67L464.51 203.67L464.51 203.67L466.13 203.67L466.13 203.67L467.75 203.67L467.75 213.22L469.37 213.22L469.37 210.04L470.98 210.04L470.98 213.22L472.60 213.22L472.60 213.22L474.22 213.22L474.22 210.04L475.84 210.04L475.84 210.04L477.46 210.04L477.46 200.49L479.07 200.49L479.07 206.85L480.69 206.85L480.69 206.85L482.31 206.85L482.31 206.85L483.93 206.85L483.93 210.04L485.54 210.04L485.54 213.22L487.16 213.22L487.16 217.10L488.78 217.10L488.78 203.67L490.40 203.67L490.40 197.31L492.02 197.31L492.02 206.85L493.63 206.85L493.63 184.58L495.25 184.58L495.25 203.67L496.87 203.67L496.87 206.85L498.49 206.85L498.49 197.31L500.10 197.31L500.10 194.13L501.72 194.13L501.72 190.95L503.34 190.95L503.34 187.76L504.96 187.76L504.96 200.49L506.58 200.49L506.58 184.58L508.19 184.58L508.19 181.40L509.81 181.40L509.81 194.13L511.43 194.13L511.43 206.85L513.05 206.85L513.05 194.13L514.66 194.13L514.66 200.49L516.28 200.49L516.28 190.95L517.90 190.95L517.90 197.31L519.52 197.31L519.52 203.67L521.14 203.67L521.14 217.10L522.75 217.10L522.75 206.85L524.37 206.85L524.37 200.49L525.99 200.49L525.99 203.67L527.61 203.67L527.61 203.67L529.23 203.67L529.23 200.49L530.84 200.49L530.84 187.76L532.46 187.76L532.46 210.04L534.08 210.04L534.08 194.13L535.70 194.13L535.70 206.85L537.31 206.85L537.31 206.85L538.93 206.85L538.93 200.49L540.55 200.49L540.55 203.67L542.17 203.67L542.17 203.67L543.79 203.67L543.79 194.13L545.40 194.13L545.40 194.13L547.02 194.13L547.02 213.22L548.64 213.22L548.64 213.22L550.26 213.22L550.26 217.10L551.87 217.10L551.87 213.22L553.49 213.22L553.49 213.22L555.11 213.22L555.11 213.22L556.73 213.22L556.73 206.85L558.35 206.85L558.35 213.22L559.96 213.22L559.96 217.10L561.58 217.10L561.58 210.04L563.20 210.04L563.20 210.04L564.82 210.04L564.82 206.85L566.43 206.85L566.43 210.04L568.05 210.04L568.05 200.49L569.67 200.49L569.67 190.95L571.29 190.95L571.29 200.49L572.91 200.49L572.91 171.85L574.52 171.85L574.52 190.95L576.14 190.95L576.14 149.58L577.76 149.58L577.76 136.85L579.38 136.85L579.38 159.13L580.99 159.13L580.99 155.95L582.61 155.95L582.61 165.49L584.23 165.49L584.23 146.40L585.85 146.40L585.85 136.85L587.47 136.85L587.47 181.40L589.08 181.40L589.08 130.49L590.70 130.49L590.70 127.31L592.32 127.31L592.32 133.67L593.94 133.67L593.94 143.22L595.55 143.22L595.55 159.13L597.17 159.13L597.17 175.04L598.79 175.04L598.79 190.95L600.41 190.95L600.41 194.13L602.03 194.13L602.03 184.58L603.64 184.58L603.64 184.58L605.26 184.58L605.26 184.58L606.88 184.58L606.88 203.67L608.50 203.67L608.50 187.76L610.12 187.76L610.12 171.85L611.73 171.85L611.73 197.31L613.35 197.31L613.35 181.40L614.97 181.40L614.97 194.13L616.59 194.13L616.59 210.04L618.20 210.04L618.20 217.10L619.82 217.10L619.82 197.31L621.44 197.31L621.44 200.49L623.06 200.49L623.06 200.49L624.68 200.49L624.68 206.85L626.29 206.85L626.29 203.67L627.91 203.67L627.91 203.67L629.53 203.67L629.53 213.22L631.15 213.22L631.15 217.10L632.76 217.10L632.76 210.04L634.38 210.04L634.38 203.67L636.00 203.67L636.00 213.22L637.62 213.22L637.62 217.10L639.24 217.10L639.24 217.10L640.85 217.10L640.85 210.04L642.47 210.04L642.47 213.22L644.09 213.22L644.09 213.22L645.71 213.22L645.71 210.04L647.32 210.04L647.32 213.22L648.94 213.22L648.94 217.10L650.56 217.10L650.56 213.22L652.18 213.22L652.18 210.04L653.80 210.04L653.80 217.10L655.41 217.10L655.41 217.10L657.03 217.10L657.03 217.10L658.65 217.10L658.65 213.22L660.27 213.22L660.27 217.10L661.88 217.10L661.88 217.10L663.50 217.10L663.50 210.04L665.12 210.04L665.12 213.22L666.74 213.22L666.74 217.10L668.36 217.10L668.36 213.22L669.97 213.22L669.97 217.10L671.59 217.10L671.59 217.10L673.21 217.10L673.21 217.10L674.83 217.10L674.83 210.04L676.44 210.04L676.44 217.10L678.06 217.10L678.06 203.67L679.68 203.67L679.68 210.04L681.30 210.04L681.30 206.85L682.92 206.85L682.92 213.22L684.53 213.22L684.53 213.22L686.15 213.22L686.15 217.10L687.77 217.10L687.77 213.22L689.39 213.22L689.39 210.04L691.01 210.04L691.01 217.10L692.62 217.10L692.62 217.10L694.24 217.10L694.24 210.04L695.86 210.04L695.86 217.10L697.48 217.10L697.48 217.10L699.09 217.10L699.09 217.10L700.71 217.10L700.71 210.04L702.33 210.04L702.33 217.10L703.95 217.10L703.95 217.10L705.57 217.10L705.57 217.10L707.18 217.10L707.18 213.22L708.80 213.22L708.80 213.22L710.42 213.22L710.42 217.10L712.04 217.10L712.04 217.10L713.65 217.10L713.65 217.10L715.27 217.10L715.27 217.10L716.89 217.10L716.89 217.10L718.51 217.10L718.51 213.22L720.13 213.22L720.13 217.10L721.74 217.10L721.74 217.10L723.36 217.10L723.36 217.10L724.98 217.10L724.98 213.22L726.60 213.22L726.60 210.04L728.21 210.04L728.21 217.10L729.83 217.10L729.83 217.10L731.45 217.10L731.45 210.04L733.07 210.04L733.07 217.10L734.69 217.10L734.69 213.22L736.30 213.22L736.30 217.10L737.92 217.10L737.92 213.22L739.54 213.22L739.54 217.10L741.16 217.10L741.16 217.10L742.77 217.10L742.77 213.22L744.39 213.22L744.39 217.10L746.01 217.10L746.01 217.10L747.63 217.10L747.63 217.10L749.25 217.10L749.25 217.10L750.86 217.10L750.86 217.10L752.48 217.10L752.48 213.22L754.10 213.22L754.10 217.10L755.72 217.10L755.72 213.22L757.33 213.22L757.33 213.22L758.95 213.22L758.95 217.10L760.57 217.10L760.57 213.22L762.19 213.22L762.19 217.10L763.81 217.10L763.81 217.10L765.42 217.10L765.42 217.10L767.04 217.10L767.04 217.10L768.66 217.10L768.66 217.10L770.28 217.10L770.28 206.85L771.90 206.85L771.90 217.10L773.51 217.10L773.51 217.10L775.13 217.10L775.13 217.10L776.75 217.10L776.75 210.04L778.37 210.04L778.37 217.10L779.98 217.10L779.98 217.10L781.60 217.10L781.60 217.10L783.22 217.10L783.22 213.22L784.84 213.22L784.84 213.22L786.46 213.22L786.46 210.04L788.07 210.04L788.07 206.85L789.69 206.85L789.69 213.22L791.31 213.22L791.31 213.22L792.93 213.22L792.93 175.04L794.54 175.04L794.54 143.22L796.16 143.22L796.16 95.49L797.78 95.49L797.78 168.67L799.40 168.67L799.40 162.31L801.02 162.31L801.02 194.13L802.63 194.13L802.63 203.67L804.25 203.67L804.25 200.49L805.87 200.49L805.87 203.67L807.49 203.67L807.49 203.67L809.10 203.67L809.10 217.10L810.72 217.10L810.72 213.22L812.34 213.22L812.34 213.22L813.96 213.22L813.96 213.22L815.58 213.22L815.58 217.10L817.19 217.10L817.19 217.10L818.81 217.10L818.81 213.22L820.43 213.22L820.43 206.85L822.05 206.85L822.05 200.49L823.66 200.49L823.66 203.67L825.28 203.67L825.28 210.04L826.90 210.04L826.90 210.04L828.52 210.04L828.52 200.49L830.14 200.49L830.14 217.10L831.75 217.10L831.75 197.31L833.37 197.31L833.37 184.58L834.99 184.58L834.99 197.31L836.61 197.31L836.61 190.95L838.22 190.95L838.22 203.67L839.84 203.67L839.84 194.13L841.46 194.13L841.46 171.85L843.08 171.85L843.08 143.22L844.70 143.22L844.70 146.40L846.31 146.40L846.31 149.58L847.93 149.58L847.93 181.40L849.55 181.40L849.55 187.76L851.17 187.76L851.17 190.95L852.79 190.95L852.79 217.10L854.40 217.10L854.40 210.04L856.02 210.04L856.02 210.04L857.64 210.04L857.64 217.10L859.26 217.10L859.26 217.10L860.87 217.10L860.87 217.10L862.49 217.10L862.49 213.22L864.11 213.22L864.11 217.10L865.73 217.10L865.73 217.10L867.35 217.10L867.35 210.04L868.96 210.04L868.96 213.22L870.58 213.22L870.58 217.10L872.20 217.10L872.20 217.10L873.82 217.10L873.82 213.22L875.43 213.22L875.43 206.85L877.05 206.85L877.05 203.67L878.67 203.67L878.67 217.10L880.29 217.10L880.29 217.10L881.91 217.10L881.91 217.10L883.52 217.10L883.52 217.10L885.14 217.10L885.14 217.10L886.76 217.10L886.76 203.67L888.38 203.67L888.38 197.31L889.99 197.31L889.99 217.10L891.61 217.10L891.61 210.04L893.23 210.04L893.23 217.10L894.85 217.10L894.85 217.10L896.47 217.10L896.47 217.10L898.08 217.10L898.08 217.10L899.70 217.10L899.70 217.10L901.32 217.10L901.32 217.10L902.94 217.10L902.94 217.10L904.55 217.10L904.55 217.10L906.17 217.10L906.17 217.10L907.79 217.10L907.79 213.22L909.41 213.22L909.41 217.10L911.03 217.10L911.03 217.10L912.64 217.10L912.64 217.10L914.26 217.10L914.26 213.22L915.88 213.22L915.88 213.22L917.50 213.22L917.50 210.04L919.11 210.04L919.11 210.04L920.73 210.04L920.73 206.85L922.35 206.85L922.35 213.22L923.97 213.22L923.97 206.85L925.59 206.85L925.59 178.22L927.20 178.22L927.20 133.67L928.82 133.67L928.82 120.95L930.44 120.95L930.44 165.49L932.06 165.49L932.06 149.58L933.68 149.58L933.68 140.04L935.29 140.04L935.29 165.49L936.91 165.49L936.91 171.85L938.53 171.85L938.53 210.04L940.15 210.04L940.15 210.04L941.76 210.04L941.76 203.67L943.38 203.67L943.38 213.22L945.00 213.22L945.00 213.22L946.62 213.22L946.62 197.31L948.24 197.31L948.24 187.76L949.85 187.76L949.85 213.22L951.47 213.22L951.47 213.22L953.09 213.22L953.09 213.22L954.71 213.22L954.71 217.10L956.32 217.10L956.32 217.10L957.94 217.10L957.94 217.10L959.56 217.10L959.56 217.10L961.18 217.10L961.18 210.04L962.80 210.04L962.80 210.04L964.41 210.04L964.41 206.85L966.03 206.85L966.03 206.85L967.65 206.85L967.65 203.67L969.27 203.67L969.27 190.95L970.88 190.95L970.88 190.95L972.50 190.95L972.50 190.95L974.12 190.95L974.12 197.31L975.74 197.31L975.74 206.85L977.36 206.85L977.36 203.67L978.97 203.67L978.97 206.85L980.59 206.85L980.59 194.13L982.21 194.13L982.21 213.22L983.83 213.22L983.83 187.76L985.44 187.76L985.44 213.22L987.06 213.22L987.06 210.04L988.68 210.04L988.68 203.67L990.30 203.67L990.30 197.31L991.92 197.31L991.92 73.22L993.53 73.22L993.53 140.04L995.15 140.04L995.15 70.04L996.77 70.04L996.77 146.40L998.39 146.40L998.39 120.95L1000.00 120.95L1000.00 50.95L1001.62 50.95L1001.62 92.31L1003.24 92.31L1003.24 127.31L1004.86 127.31L1004.86 168.67L1006.48 168.67L1006.48 165.49L1008.09 165.49L1008.09 114.58L1009.71 114.58L1009.71 143.22L1011.33 143.22L1011.33 178.22L1012.95 178.22L1012.95 146.40L1014.57 146.40L1014.57 146.40L1016.18 146.40L1016.18 130.49L1017.80 130.49L1017.80 178.22L1019.42 178.22L1019.42 127.31L1021.04 127.31L1021.04 95.49L1022.65 95.49L1022.65 101.85L1024.27 101.85L1024.27 136.85L1025.89 136.85L1025.89 159.13L1027.51 159.13L1027.51 181.40L1029.13 181.40L1029.13 187.76L1030.74 187.76L1030.74 197.31L1032.36 197.31L1032.36 181.40L1033.98 181.40L1033.98 197.31L1035.60 197.31L1035.60 210.04L1037.21 210.04L1037.21 203.67L1038.83 203.67L1038.83 200.49L1040.45 200.49L1040.45 213.22L1042.07 213.22L1042.07 210.04L1043.69 210.04L1043.69 210.04L1045.30 210.04L1045.30 213.22L1046.92 213.22L1046.92 203.67L1048.54 203.67L1048.54 206.85L1050.16 206.85L1050.16 190.95L1051.77 190.95L1051.77 168.67L1053.39 168.67L1053.39 184.58L1055.01 184.58L1055.01 206.85L1056.63 206.85L1056.63 206.85L1058.25 206.85L1058.25 210.04L1059.86 210.04L1059.86 213.22L1061.48 213.22L1061.48 210.04L1063.10 210.04L1063.10 210.04L1064.72 210.04L1064.72 206.85L1066.33 206.85L1066.33 206.85L1067.95 206.85L1067.95 206.85L1069.57 206.85L1069.57 213.22L1071.19 213.22L1071.19 210.04L1072.81 210.04L1072.81 213.22L1074.42 213.22L1074.42 213.22L1076.04 213.22L1076.04 213.22L1077.66 213.22L1077.66 217.10L1079.28 217.10L1079.28 213.22L1080.89 213.22L1080.89 217.10L1082.51 217.10L1082.51 217.10L1084.13 217.10L1084.13 217.10L1085.75 217.10L1085.75 213.22L1087.37 213.22L1087.37 213.22L1088.98 213.22L1088.98 213.22L1090.60 213.22L1090.60 210.04L1092.22 210.04L1092.22 217.10L1093.84 217.10L1093.84 217.10L1095.46 217.10L1095.46 217.10L1097.07 217.10L1097.07 217.10L1098.69 217.10L1098.69 217.10L1100.31 217.10L1100.31 217.10L1101.93 217.10L1101.93 213.22L1103.54 213.22L1103.54 217.10L1105.16 217.10L1105.16 217.10L1106.78 217.10L1106.78 213.22L1108.40 213.22L1108.40 217.10L1110.02 217.10L1110.02 217.10L1111.63 217.10L1111.63 217.10L1113.25 217.10L1113.25 217.10L1114.87 217.10L1114.87 217.10L1116.49 217.10L1116.49 217.10L1118.10 217.10L1118.10 217.10L1119.72 217.10L1119.72 217.10L1121.34 217.10L1121.34 217.10L1122.96 217.10L1122.96 217.10L1124.58 217.10L1124.58 217.10L1126.19 217.10L1126.19 217.10L1127.81 217.10L1127.81 217.10L1129.43 217.10L1129.43 217.10L1131.05 217.10L1131.05 217.10L1132.66 217.10L1132.66 217.10L1134.28 217.10L1134.28 217.10L1135.90 217.10L1135.90 217.10L1137.52 217.10L1137.52 217.10L1139.14 217.10L1139.14 217.10L1140.75 217.10L1140.75 217.10L1142.37 217.10L1142.37 217.10L1143.99 217.10L1143.99 217.10L1145.61 217.10L1145.61 217.10L1147.22 217.10L1147.22 217.10L1148.84 217.10L1148.84 217.10L1150.46 217.10L1150.46 217.10L1152.08 217.10L1152.08 217.10L1153.70 217.10L1153.70 217.10L1155.31 217.10L1155.31 217.10L1156.93 217.10L1156.93 217.10L1158.55 217.10L1158.55 217.10L1160.17 217.10L1160.17 217.10L1161.78 217.10L1161.78 217.10L1163.40 217.10L1163.40 217.10L1165.02 217.10L1165.02 217.10L1166.64 217.10L1166.64 217.10L1168.26 217.10L1168.26 217.10L1169.87 217.10L1169.87 217.10L1171.49 217.10L1171.49 217.10L1173.11 217.10L1173.11 217.10L1174.73 217.10L1174.73 217.10L1176.35 217.10L1176.35 217.10L1177.96 217.10L1177.96 217.10L1179.58 217.10L1179.58 217.10L1181.20 217.10L1181.20 217.10L1182.82 217.10L1182.82 217.10L1184.43 217.10L1184.43 217.10L1186.05 217.10L1186.05 217.10L1187.67 217.10L1187.67 217.10L1189.29 217.10L1189.29 213.22L1190.91 213.22L1190.91 217.10L1192.52 217.10L1192.52 213.22L1194.14 213.22L1194.14 217.10L1195.76 217.10L1195.76 217.10L1197.38 217.10L1197.38 217.10L1198.99 217.10L1198.99 217.10L1200.61 217.10L1200.61 213.22L1202.23 213.22L1202.23 213.22L1203.85 213.22L1203.85 217.10L1205.47 217.10L1205.47 217.10L1207.08 217.10L1207.08 217.10L1208.70 217.10L1208.70 217.10L1210.32 217.10L1210.32 217.10L1211.94 217.10L1211.94 217.10L1213.55 217.10L1213.55 217.10L1215.17 217.10L1215.17 217.10L1216.79 217.10L1216.79 217.10L1218.41 217.10L1218.41 217.10L1220.03 217.10L1220.03 217.10L1221.64 217.10L1221.64 217.10L1223.26 217.10L1223.26 217.10L1224.88 217.10L1224.88 217.10L1226.50 217.10L1226.50 217.10L1228.11 217.10L1228.11 217.10L1229.73 217.10L1229.73 217.10L1231.35 217.10L1231.35 213.22L1232.97 213.22L1232.97 217.10L1234.59 217.10L1234.59 217.10L1236.20 217.10L1236.20 217.10L1237.82 217.10L1237.82 213.22L1239.44 213.22L1239.44 217.10L1241.06 217.10L1241.06 217.10L1242.67 217.10L1242.67 217.10L1244.29 217.10L1244.29 213.22L1245.91 213.22L1245.91 217.10L1247.53 217.10L1247.53 217.10L1249.15 217.10L1249.15 217.10L1250.76 217.10L1250.76 217.10L1252.38 217.10L1252.38 217.10L1254.00 217.10L1254.00 217.10L1255.62 217.10L1255.62 217.10L1257.24 217.10L1257.24 217.10L1258.85 217.10L1258.85 217.10L1260.47 217.10L1260.47 217.10L1262.09 217.10L1262.09 217.10L1263.71 217.10L1263.71 217.10L1265.32 217.10L1265.32 217.10L1266.94 217.10L1266.94 217.10L1268.56 217.10L1268.56 217.10L1270.18 217.10L1270.18 217.10L1271.80 217.10L1271.80 217.10L1273.41 217.10L1273.41 217.10L1275.03 217.10L1275.03 217.10L1276.65 217.10L1276.65 217.10L1278.27 217.10L1278.27 217.10L1279.88 217.10L1279.88 217.10L1281.50 217.10L1281.50 217.10L1283.12 217.10L1283.12 217.10L1284.74 217.10L1284.74 217.10L1286.36 217.10L1286.36 217.10L1287.97 217.10L1287.97 217.10L1289.59 217.10L1289.59 213.22L1291.21 213.22L1291.21 213.22L1292.83 213.22L1292.83 213.22L1294.44 213.22L1294.44 213.22L1296.06 213.22L1296.06 217.10L1297.68 217.10L1297.68 217.10L1299.30 217.10L1299.30 217.10L1300.92 217.10L1300.92 217.10L1302.53 217.10L1302.53 217.10L1304.15 217.10L1304.15 217.10L1305.77 217.10L1305.77 213.22L1307.39 213.22L1307.39 217.10L1309.00 217.10L1309.00 217.10L1310.62 217.10L1310.62 217.10L1312.24 217.10L1312.24 217.10L1313.86 217.10L1313.86 217.10L1315.48 217.10L1315.48 217.10L1317.09 217.10L1317.09 217.10L1318.71 217.10L1318.71 217.10L1320.33 217.10L1320.33 217.10L1321.95 217.10L1321.95 217.10L1323.57 217.10L1323.57 217.10z" fill="#0000ff" stroke="#0000ff" stroke-width="0.25"/>
<path class="ax" d="M148.8 217.1H1322.7"/>
<text x="11.7" y="19.4" font-size="18" textLength="289.5" lengthAdjust="spacingAndGlyphs">図１．麻疹患者の診断週別届出数，</text>
<text x="301.0" y="19.4" font-size="18" textLength="37.5" lengthAdjust="spacingAndGlyphs">2008</text>
<text x="339.3" y="19.4" font-size="18" textLength="21.7" lengthAdjust="spacingAndGlyphs">～</text>
<text x="361.8" y="19.4" font-size="18" textLength="37.5" lengthAdjust="spacingAndGlyphs">2022</text>
<text x="401.2" y="19.4" font-size="18">年</text>
<text x="180.5" y="55.7" font-size="16" textLength="36.2" lengthAdjust="spacingAndGlyphs">2009</text>
<text x="217.5" y="55.7" font-size="16">～</text>
<text x="233.8" y="55.7" font-size="16" textLength="36.2" lengthAdjust="spacingAndGlyphs">2022</text>
<text x="270.5" y="55.7" font-size="16">年</text>
<text x="287.0" y="55.7" font-size="16">(</text>
<text x="292.0" y="55.7" font-size="16">再掲</text>
<text x="324.5" y="55.7" font-size="16">)</text>
<text x="55.7" y="274.5" font-size="14" text-anchor="end" textLength="7.7" lengthAdjust="spacingAndGlyphs">0</text>
<text x="55.7" y="236.7" font-size="14" text-anchor="end" textLength="23.0" lengthAdjust="spacingAndGlyphs">100</text>
<text x="55.7" y="198.9" font-size="14" text-anchor="end" textLength="23.0" lengthAdjust="spacingAndGlyphs">200</text>
<text x="55.7" y="161.2" font-size="14" text-anchor="end" textLength="23.0" lengthAdjust="spacingAndGlyphs">300</text>
<text x="55.7" y="123.4" font-size="14" text-anchor="end" textLength="23.0" lengthAdjust="spacingAndGlyphs">400</text>
<text x="55.7" y="85.6" font-size="14" text-anchor="end" textLength="23.0" lengthAdjust="spacingAndGlyphs">500</text>
<text x="55.7" y="47.8" font-size="14" text-anchor="end" textLength="23.0" lengthAdjust="spacingAndGlyphs">600</text>
<text x="139.6" y="222.2" font-size="14" text-anchor="end" textLength="7.5" lengthAdjust="spacingAndGlyphs">0</text>
<text x="139.6" y="206.3" font-size="14" text-anchor="end" textLength="7.5" lengthAdjust="spacingAndGlyphs">5</text>
<text x="139.6" y="190.4" font-size="14" text-anchor="end" textLength="14.9" lengthAdjust="spacingAndGlyphs">10</text>
<text x="139.6" y="174.5" font-size="14" text-anchor="end" textLength="14.9" lengthAdjust="spacingAndGlyphs">15</text>
<text x="139.6" y="158.6" font-size="14" text-anchor="end" textLength="14.9" lengthAdjust="spacingAndGlyphs">20</text>
<text x="139.6" y="142.7" font-size="14" text-anchor="end" textLength="14.9" lengthAdjust="spacingAndGlyphs">25</text>
<text x="139.6" y="126.7" font-size="14" text-anchor="end" textLength="14.9" lengthAdjust="spacingAndGlyphs">30</text>
<text x="139.6" y="110.8" font-size="14" text-anchor="end" textLength="14.9" lengthAdjust="spacingAndGlyphs">35</text>
<text x="139.6" y="94.9" font-size="14" text-anchor="end" textLength="14.9" lengthAdjust="spacingAndGlyphs">40</text>
<text x="139.6" y="79.0" font-size="14" text-anchor="end" textLength="14.9" lengthAdjust="spacingAndGlyphs">45</text>
<text x="139.6" y="63.1" font-size="14" text-anchor="end" textLength="14.9" lengthAdjust="spacingAndGlyphs">50</text>
<text x="139.6" y="47.2" font-size="14" text-anchor="end" textLength="14.9" lengthAdjust="spacingAndGlyphs">55</text>
<text x="16.6" y="129.3" font-size="14" text-anchor="middle">届</text>
<text x="16.6" y="149.5" font-size="14" text-anchor="middle">出</text>
<text x="16.6" y="170.7" font-size="14" text-anchor="middle">数</text>
<text x="16.6" y="201.6" font-size="14" text-anchor="middle">例</text>
<text font-size="14" text-anchor="middle" transform="translate(16.6 186.6) scale(1 1.45)">︵</text>
<text font-size="14" text-anchor="middle" transform="translate(16.6 223.2) scale(1 1.45)">︶</text>
<path class="br" d="M148.6 223.3V231.3H222.3V223.3M235.7 222.5V231.3H306.6V222.5M320.6 222.0V229.9H391.4V222.0M403.3 223.9V230.3H473.5V223.9M486.5 222.0V230.3H560.7V222.0M567.3 223.3V231.3H641.5V223.3M652.7 223.3V231.3H726.1V223.3M738.7 222.0V230.3H812.5V222.0M822.7 222.0V230.3H896.5V222.0M907.5 222.0V230.3H981.3V222.0M992.8 221.2V229.2H1066.7V221.2M1075.4 222.2V230.2H1149.1V222.2M1161.6 223.0V231.2H1235.4V223.0M1244.3 223.5V231.2H1318.6V223.5M66.4 296.0V303.6H140.1V296.0M150.4 296.5V303.6H224.1V296.5M237.4 296.5V304.1H308.1V296.5M322.4 296.4V302.9H393.1V296.4M405.5 296.1V303.3H475.3V296.1M486.5 294.0V302.3H560.7V294.0M570.5 297.0V305.2H644.7V297.0M654.5 295.9V304.1H728.0V295.9M740.5 295.3V303.3H814.1V295.3M824.3 295.3V303.3H898.1V295.3M909.9 297.0V305.2H983.5V297.0M994.7 296.0V304.1H1068.2V296.0M1076.9 294.7V302.9H1150.6V294.7M1161.6 294.7V302.9H1235.4V294.7M1243.6 293.4V302.4H1317.3V293.4"/>
<text x="185.7" y="245.0" font-size="14" text-anchor="middle" textLength="30.0" lengthAdjust="spacingAndGlyphs">2009</text>
<text x="274.0" y="244.5" font-size="14" text-anchor="middle" textLength="30.0" lengthAdjust="spacingAndGlyphs">2010</text>
<text x="358.0" y="243.5" font-size="14" text-anchor="middle" textLength="30.0" lengthAdjust="spacingAndGlyphs">2011</text>
<text x="438.8" y="245.2" font-size="14" text-anchor="middle" textLength="30.0" lengthAdjust="spacingAndGlyphs">2012</text>
<text x="524.7" y="244.1" font-size="14" text-anchor="middle" textLength="30.0" lengthAdjust="spacingAndGlyphs">2013</text>
<text x="608.7" y="245.2" font-size="14" text-anchor="middle" textLength="30.0" lengthAdjust="spacingAndGlyphs">2014</text>
<text x="690.8" y="244.1" font-size="14" text-anchor="middle" textLength="30.0" lengthAdjust="spacingAndGlyphs">2015</text>
<text x="776.0" y="242.8" font-size="14" text-anchor="middle" textLength="30.0" lengthAdjust="spacingAndGlyphs">2016</text>
<text x="858.1" y="245.2" font-size="14" text-anchor="middle" textLength="30.0" lengthAdjust="spacingAndGlyphs">2017</text>
<text x="944.8" y="242.0" font-size="14" text-anchor="middle" textLength="30.0" lengthAdjust="spacingAndGlyphs">2018</text>
<text x="1029.8" y="242.7" font-size="14" text-anchor="middle" textLength="30.0" lengthAdjust="spacingAndGlyphs">2019</text>
<text x="1112.2" y="244.0" font-size="14" text-anchor="middle" textLength="30.0" lengthAdjust="spacingAndGlyphs">2020</text>
<text x="1197.5" y="243.5" font-size="14" text-anchor="middle" textLength="30.0" lengthAdjust="spacingAndGlyphs">2021</text>
<text x="1283.8" y="246.0" font-size="14" text-anchor="middle" textLength="30.0" lengthAdjust="spacingAndGlyphs">2022</text>
<text x="102.5" y="321.0" font-size="14" text-anchor="middle" textLength="30.0" lengthAdjust="spacingAndGlyphs">2008</text>
<text x="187.7" y="320.7" font-size="14" text-anchor="middle" textLength="30.0" lengthAdjust="spacingAndGlyphs">2009</text>
<text x="276.3" y="320.7" font-size="14" text-anchor="middle" textLength="30.0" lengthAdjust="spacingAndGlyphs">2010</text>
<text x="359.3" y="320.5" font-size="14" text-anchor="middle" textLength="30.0" lengthAdjust="spacingAndGlyphs">2011</text>
<text x="444.1" y="320.7" font-size="14" text-anchor="middle" textLength="30.0" lengthAdjust="spacingAndGlyphs">2012</text>
<text x="526.8" y="321.5" font-size="14" text-anchor="middle" textLength="30.0" lengthAdjust="spacingAndGlyphs">2013</text>
<text x="608.1" y="322.5" font-size="14" text-anchor="middle" textLength="30.0" lengthAdjust="spacingAndGlyphs">2014</text>
<text x="694.0" y="322.0" font-size="14" text-anchor="middle" textLength="30.0" lengthAdjust="spacingAndGlyphs">2015</text>
<text x="778.7" y="321.2" font-size="14" text-anchor="middle" textLength="30.0" lengthAdjust="spacingAndGlyphs">2016</text>
<text x="860.5" y="321.2" font-size="14" text-anchor="middle" textLength="30.0" lengthAdjust="spacingAndGlyphs">2017</text>
<text x="948.8" y="320.1" font-size="14" text-anchor="middle" textLength="30.0" lengthAdjust="spacingAndGlyphs">2018</text>
<text x="1034.9" y="320.5" font-size="14" text-anchor="middle" textLength="30.0" lengthAdjust="spacingAndGlyphs">2019</text>
<text x="1115.0" y="321.6" font-size="14" text-anchor="middle" textLength="30.0" lengthAdjust="spacingAndGlyphs">2020</text>
<text x="1199.3" y="320.3" font-size="14" text-anchor="middle" textLength="30.0" lengthAdjust="spacingAndGlyphs">2021</text>
<text x="1284.5" y="319.0" font-size="14" text-anchor="middle" textLength="30.0" lengthAdjust="spacingAndGlyphs">2022</text>
<text x="65.4" y="289.6" font-size="12" text-anchor="middle">1</text>
<text x="85.8" y="289.6" font-size="12" text-anchor="middle" textLength="13.0" lengthAdjust="spacingAndGlyphs">14</text>
<text x="107.3" y="289.6" font-size="12" text-anchor="middle" textLength="13.0" lengthAdjust="spacingAndGlyphs">27</text>
<text x="126.8" y="289.6" font-size="12" text-anchor="middle" textLength="13.0" lengthAdjust="spacingAndGlyphs">40</text>
<text x="149.3" y="289.6" font-size="12" text-anchor="middle">1</text>
<text x="169.8" y="289.6" font-size="12" text-anchor="middle" textLength="13.0" lengthAdjust="spacingAndGlyphs">14</text>
<text x="191.3" y="289.6" font-size="12" text-anchor="middle" textLength="13.0" lengthAdjust="spacingAndGlyphs">27</text>
<text x="210.8" y="289.6" font-size="12" text-anchor="middle" textLength="13.0" lengthAdjust="spacingAndGlyphs">40</text>
<text x="236.4" y="289.6" font-size="12" text-anchor="middle">1</text>
<text x="256.9" y="289.6" font-size="12" text-anchor="middle" textLength="13.0" lengthAdjust="spacingAndGlyphs">14</text>
<text x="277.9" y="289.6" font-size="12" text-anchor="middle" textLength="13.0" lengthAdjust="spacingAndGlyphs">27</text>
<text x="297.8" y="289.6" font-size="12" text-anchor="middle" textLength="13.0" lengthAdjust="spacingAndGlyphs">40</text>
<text x="316.3" y="288.8" font-size="12" text-anchor="middle">1</text>
<text x="336.7" y="288.8" font-size="12" text-anchor="middle" textLength="13.0" lengthAdjust="spacingAndGlyphs">14</text>
<text x="358.5" y="288.8" font-size="12" text-anchor="middle" textLength="13.0" lengthAdjust="spacingAndGlyphs">27</text>
<text x="377.7" y="288.8" font-size="12" text-anchor="middle" textLength="13.0" lengthAdjust="spacingAndGlyphs">40</text>
<text x="401.2" y="289.5" font-size="12" text-anchor="middle">1</text>
<text x="422.0" y="289.5" font-size="12" text-anchor="middle" textLength="13.0" lengthAdjust="spacingAndGlyphs">14</text>
<text x="444.1" y="289.5" font-size="12" text-anchor="middle" textLength="13.0" lengthAdjust="spacingAndGlyphs">27</text>
<text x="462.8" y="289.5" font-size="12" text-anchor="middle" textLength="13.0" lengthAdjust="spacingAndGlyphs">40</text>
<text x="486.5" y="289.5" font-size="12" text-anchor="middle">1</text>
<text x="507.3" y="289.5" font-size="12" text-anchor="middle" textLength="13.0" lengthAdjust="spacingAndGlyphs">14</text>
<text x="529.2" y="289.5" font-size="12" text-anchor="middle" textLength="13.0" lengthAdjust="spacingAndGlyphs">27</text>
<text x="547.9" y="289.5" font-size="12" text-anchor="middle" textLength="13.0" lengthAdjust="spacingAndGlyphs">40</text>
<text x="570.5" y="288.7" font-size="12" text-anchor="middle">1</text>
<text x="590.0" y="288.7" font-size="12" text-anchor="middle" textLength="13.0" lengthAdjust="spacingAndGlyphs">14</text>
<text x="610.0" y="288.7" font-size="12" text-anchor="middle" textLength="13.0" lengthAdjust="spacingAndGlyphs">27</text>
<text x="630.8" y="288.7" font-size="12" text-anchor="middle" textLength="13.0" lengthAdjust="spacingAndGlyphs">40</text>
<text x="653.5" y="287.6" font-size="12" text-anchor="middle">1</text>
<text x="672.1" y="288.3" font-size="12" text-anchor="middle" textLength="13.0" lengthAdjust="spacingAndGlyphs">14</text>
<text x="694.0" y="289.3" font-size="12" text-anchor="middle" textLength="13.0" lengthAdjust="spacingAndGlyphs">27</text>
<text x="716.5" y="289.3" font-size="12" text-anchor="middle" textLength="13.0" lengthAdjust="spacingAndGlyphs">40</text>
<text x="738.7" y="289.0" font-size="12" text-anchor="middle">1</text>
<text x="758.1" y="290.0" font-size="12" text-anchor="middle" textLength="13.0" lengthAdjust="spacingAndGlyphs">14</text>
<text x="780.8" y="289.8" font-size="12" text-anchor="middle" textLength="13.0" lengthAdjust="spacingAndGlyphs">27</text>
<text x="801.3" y="289.5" font-size="12" text-anchor="middle" textLength="13.0" lengthAdjust="spacingAndGlyphs">40</text>
<text x="821.3" y="288.1" font-size="12" text-anchor="middle">1</text>
<text x="844.8" y="288.1" font-size="12" text-anchor="middle" textLength="13.0" lengthAdjust="spacingAndGlyphs">14</text>
<text x="866.7" y="288.1" font-size="12" text-anchor="middle" textLength="13.0" lengthAdjust="spacingAndGlyphs">27</text>
<text x="887.5" y="288.1" font-size="12" text-anchor="middle" textLength="13.0" lengthAdjust="spacingAndGlyphs">40</text>
<text x="907.2" y="287.9" font-size="12" text-anchor="middle">1</text>
<text x="928.8" y="287.9" font-size="12" text-anchor="middle" textLength="13.0" lengthAdjust="spacingAndGlyphs">14</text>
<text x="948.5" y="287.9" font-size="12" text-anchor="middle" textLength="13.0" lengthAdjust="spacingAndGlyphs">27</text>
<text x="968.8" y="287.9" font-size="12" text-anchor="middle" textLength="13.0" lengthAdjust="spacingAndGlyphs">40</text>
<text x="990.7" y="287.8" font-size="12" text-anchor="middle">1</text>
<text x="1012.0" y="287.8" font-size="12" text-anchor="middle" textLength="13.0" lengthAdjust="spacingAndGlyphs">14</text>
<text x="1031.1" y="287.8" font-size="12" text-anchor="middle" textLength="13.0" lengthAdjust="spacingAndGlyphs">27</text>
<text x="1052.8" y="287.8" font-size="12" text-anchor="middle" textLength="13.0" lengthAdjust="spacingAndGlyphs">40</text>
<text x="1074.3" y="288.3" font-size="12" text-anchor="middle">1</text>
<text x="1095.1" y="288.3" font-size="12" text-anchor="middle" textLength="13.0" lengthAdjust="spacingAndGlyphs">14</text>
<text x="1113.8" y="288.3" font-size="12" text-anchor="middle" textLength="13.0" lengthAdjust="spacingAndGlyphs">27</text>
<text x="1137.8" y="288.3" font-size="12" text-anchor="middle" textLength="13.0" lengthAdjust="spacingAndGlyphs">40</text>
<text x="1157.8" y="287.5" font-size="12" text-anchor="middle">1</text>
<text x="1182.9" y="287.5" font-size="12" text-anchor="middle" textLength="13.0" lengthAdjust="spacingAndGlyphs">14</text>
<text x="1202.6" y="287.5" font-size="12" text-anchor="middle" textLength="13.0" lengthAdjust="spacingAndGlyphs">27</text>
<text x="1222.6" y="287.5" font-size="12" text-anchor="middle" textLength="13.0" lengthAdjust="spacingAndGlyphs">40</text>
<text x="1243.6" y="288.8" font-size="12" text-anchor="middle">1</text>
<text x="1268.7" y="288.8" font-size="12" text-anchor="middle" textLength="13.0" lengthAdjust="spacingAndGlyphs">14</text>
<text x="1288.4" y="288.8" font-size="12" text-anchor="middle" textLength="13.0" lengthAdjust="spacingAndGlyphs">27</text>
<text x="1308.3" y="288.8" font-size="12" text-anchor="middle" textLength="13.0" lengthAdjust="spacingAndGlyphs">40</text>
<text x="1321.0" y="290.0" font-size="11.8">診断週</text>
<text x="1331.4" y="316.7" font-size="11">年</text>
<text x="1331.4" y="244.3" font-size="11">年</text>
<text x="992.7" y="346.7" font-size="13.8" textLength="152.2" lengthAdjust="spacingAndGlyphs">（感染症発生動向調査：</text>
<text x="1146.3" y="346.7" font-size="13.8" textLength="31.9" lengthAdjust="spacingAndGlyphs">2023</text>
<text x="1178.8" y="346.7" font-size="13.8">年</text>
<text x="1194.0" y="346.7" font-size="13.8" textLength="7.9" lengthAdjust="spacingAndGlyphs">7</text>
<text x="1202.6" y="346.7" font-size="13.8">月</text>
<text x="1216.4" y="346.7" font-size="13.8" textLength="15.6" lengthAdjust="spacingAndGlyphs">27</text>
<text x="1233.0" y="346.7" font-size="13.8" textLength="96.2" lengthAdjust="spacingAndGlyphs">日現在届出数）</text>
<rect x="1185.6" y="366.9" width="88.4" height="30.7" fill="#50ddff"/>
<path d="M1186.2 397.6V367.5H1274" stroke="#aef2ff" stroke-width="1.4" fill="none"/>
<path d="M1185.6 397.0H1273.4V366.9" stroke="#3f9cf2" stroke-width="1.4" fill="none"/>
<text x="1192.6" y="390.3" font-size="23" font-weight="bold" font-style="italic" textLength="10.0" lengthAdjust="spacingAndGlyphs" style="fill:#ffffff;stroke:#ffffff;stroke-width:.6px">I</text>
<text x="1207.2" y="390.3" font-size="23" font-weight="bold" font-style="italic" textLength="16.0" lengthAdjust="spacingAndGlyphs" style="fill:#ffffff;stroke:#ffffff;stroke-width:.6px">A</text>
<text x="1229.1" y="390.3" font-size="23" font-weight="bold" font-style="italic" textLength="13.8" lengthAdjust="spacingAndGlyphs" style="fill:#ffffff;stroke:#ffffff;stroke-width:.6px">S</text>
<text x="1247.0" y="390.3" font-size="23" font-weight="bold" font-style="italic" textLength="17.6" lengthAdjust="spacingAndGlyphs" style="fill:#ffffff;stroke:#ffffff;stroke-width:.6px">R</text>
<text x="1191.0" y="389.7" font-size="23" font-weight="bold" font-style="italic" textLength="10.0" lengthAdjust="spacingAndGlyphs" style="fill:#0f3fe0;stroke:#0f3fe0;stroke-width:.6px">I</text>
<text x="1205.6" y="389.7" font-size="23" font-weight="bold" font-style="italic" textLength="16.0" lengthAdjust="spacingAndGlyphs" style="fill:#0f3fe0;stroke:#0f3fe0;stroke-width:.6px">A</text>
<text x="1227.5" y="389.7" font-size="23" font-weight="bold" font-style="italic" textLength="13.8" lengthAdjust="spacingAndGlyphs" style="fill:#0f3fe0;stroke:#0f3fe0;stroke-width:.6px">S</text>
<text x="1245.4" y="389.7" font-size="23" font-weight="bold" font-style="italic" textLength="17.6" lengthAdjust="spacingAndGlyphs" style="fill:#0f3fe0;stroke:#0f3fe0;stroke-width:.6px">R</text>
<text x="1169" y="413" font-size="9.4" font-style="italic" textLength="129" lengthAdjust="spacingAndGlyphs" style="font-family:'Liberation Sans',sans-serif;fill:#1818e0;stroke:#1818e0;stroke-width:.15px">Infectious Agents Surveillance Report</text>
</svg></body></html>
